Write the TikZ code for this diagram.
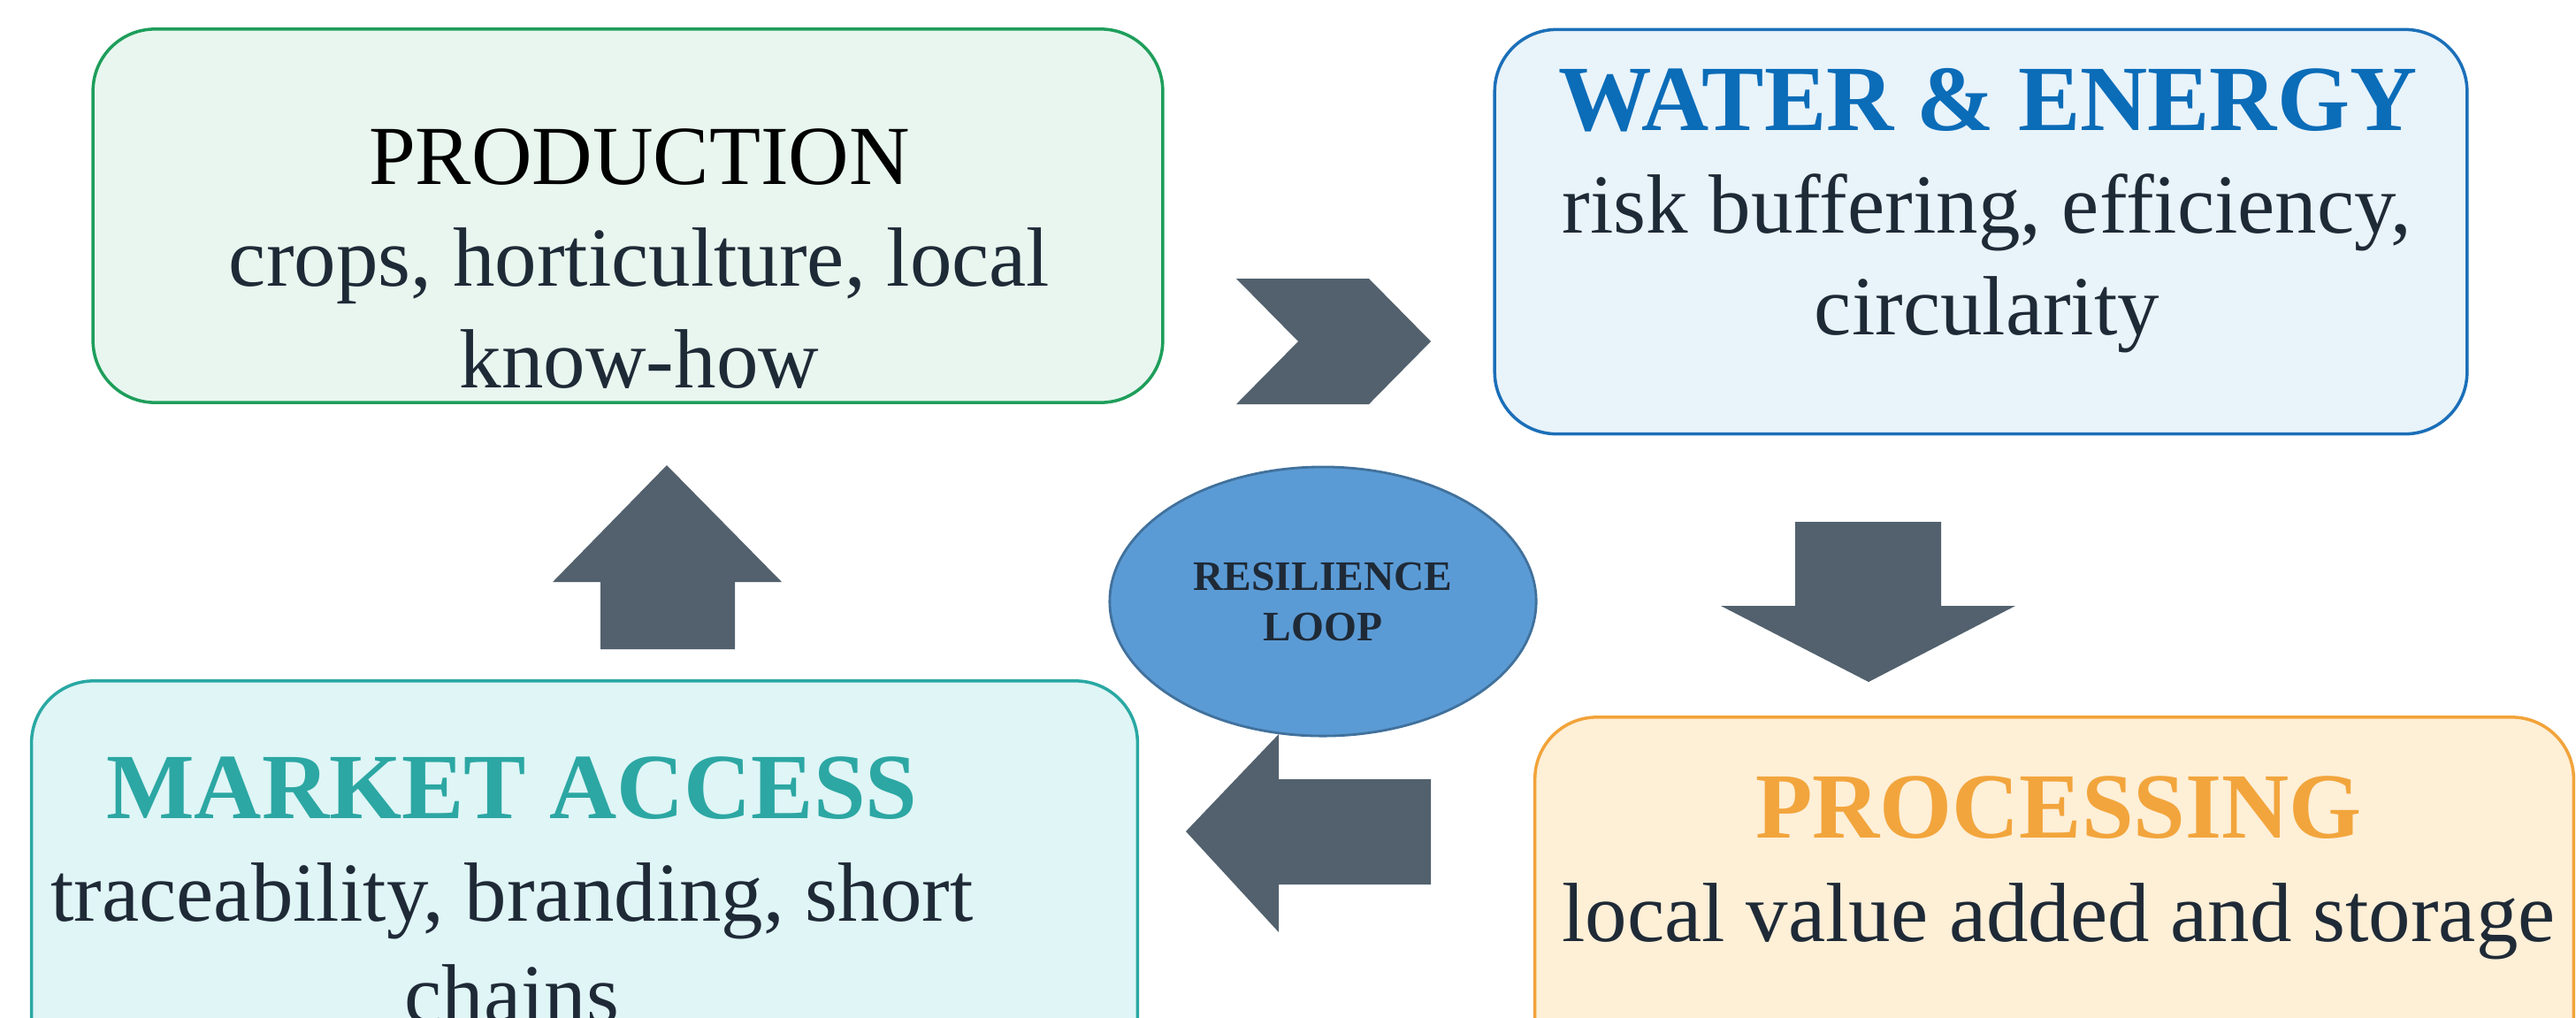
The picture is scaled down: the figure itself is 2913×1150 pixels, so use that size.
\documentclass[tikz,border=0pt]{standalone}
\usepackage{fontspec}
\setmainfont{Liberation Serif}
\usetikzlibrary{shapes.geometric}

\definecolor{prodline}{HTML}{1E9E5B}
\definecolor{prodfill}{HTML}{E8F6EF}
\definecolor{waterline}{HTML}{1B6FB8}
\definecolor{waterfill}{HTML}{E8F3FA}
\definecolor{watertext}{HTML}{0B6CB8}
\definecolor{marketline}{HTML}{2AA8A3}
\definecolor{marketfill}{HTML}{DFF5F6}
\definecolor{markettext}{HTML}{2CA7A3}
\definecolor{procline}{HTML}{F2A33A}
\definecolor{procfill}{HTML}{FEEFD7}
\definecolor{proctext}{HTML}{F2A53C}
\definecolor{arrowgray}{HTML}{52616D}
\definecolor{loopfill}{HTML}{5B9BD5}
\definecolor{loopline}{HTML}{41719C}
\definecolor{bodytext}{HTML}{1F2A37}

\begin{document}
\begin{tikzpicture}[x=0.01cm, y=-0.01cm,
    stagebox/.style={rectangle, rounded corners=0.7cm, line width=1pt, inner sep=0pt},
    headtext/.style={anchor=base, font={\fontsize{30}{36}\selectfont\bfseries}},
    bodyline/.style={anchor=base, align=center, text=bodytext, font={\fontsize{27}{32.7}\selectfont}},
    blockarrow/.style={fill=arrowgray}]
        \useasboundingbox (0, 0) rectangle (2913, 1150);

        \node[stagebox, draw=prodline, fill=prodfill, minimum width=12.09cm, minimum height=4.22cm] (production) at (710, 244) {};
        \node[stagebox, draw=waterline, fill=waterfill, minimum width=10.99cm, minimum height=4.57cm] (water) at (2240, 262) {};
        \node[stagebox, draw=marketline, fill=marketfill, minimum width=12.50cm, minimum height=4.60cm] (market) at (661, 1000) {};
        \node[stagebox, draw=procline, fill=procfill, minimum width=11.74cm, minimum height=4.60cm] (processing) at (2323, 1041) {};

        % multi-line text sits on its last baseline
        \node[anchor=base, font={\fontsize{27}{32.7}\selectfont}] (prodhead) at (723, 208) {PRODUCTION};
        \node[bodyline] (prodbody) at (723, 438) {crops, horticulture, local\\know-how};
        \node[headtext, text=watertext] (waterhead) at (2248, 147) {WATER \& ENERGY};
        \node[bodyline] (waterbody) at (2247, 378) {risk buffering, efficiency,\\circularity};
        \node[headtext, text=markettext] (markethead) at (579, 925) {MARKET ACCESS};
        \node[bodyline] (marketbody) at (579, 1156) {traceability, branding, short\\chains};
        \node[headtext, text=proctext] (prochead) at (2328, 947) {PROCESSING};
        \node[bodyline] (procbody) at (2328, 1064) {local value added and storage};

        \fill[blockarrow] (1398, 315) -- (1548, 315) -- (1618, 386) -- (1548, 457) -- (1398, 457) -- (1468, 386) -- cycle;
        \fill[blockarrow] (2030, 590) -- (2195, 590) -- (2195, 685) -- (2279, 685) -- (2113, 771) -- (1946, 685) -- (2030, 685) -- cycle;
        \fill[blockarrow] (1341, 940) -- (1446, 830) -- (1446, 881) -- (1618, 881) -- (1618, 1000) -- (1446, 1000) -- (1446, 1054) -- cycle;
        \fill[blockarrow] (754, 526) -- (884, 658) -- (831, 658) -- (831, 734) -- (679, 734) -- (679, 658) -- (625, 658) -- cycle;

        \node[ellipse, draw=loopline, fill=loopfill, line width=0.8pt, minimum width=4.82cm, minimum height=3.04cm, inner sep=0pt,
              align=center, text=bodytext, font={\fontsize{13.5}{16.2}\selectfont\bfseries}] (loop) at (1496, 680) {RESILIENCE\\LOOP};

    \end{tikzpicture}
\end{document}
